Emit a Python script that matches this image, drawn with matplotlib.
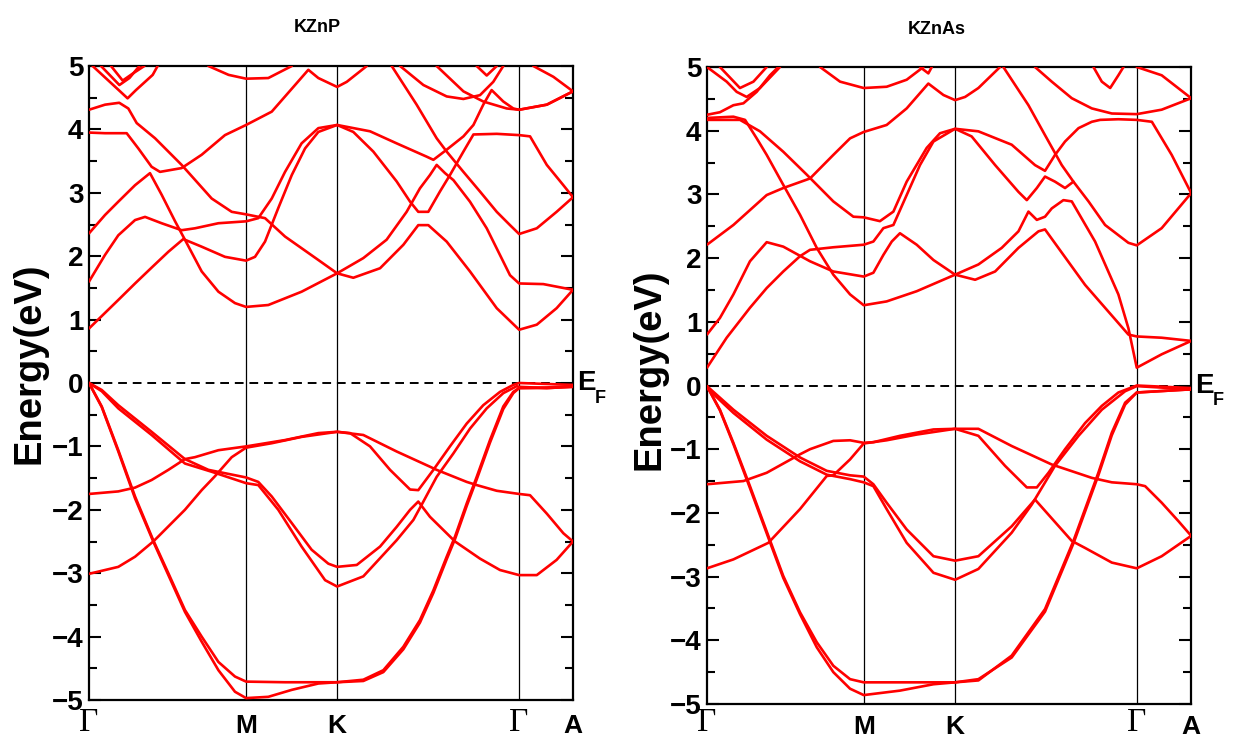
import matplotlib
matplotlib.use("Agg")
import matplotlib.pyplot as plt
from matplotlib.ticker import MultipleLocator
from matplotlib.transforms import blended_transform_factory

plt.rcParams["font.family"] = ["Liberation Sans", "DejaVu Sans"]
plt.rcParams["axes.unicode_minus"] = True

# high-symmetry path, distances along the path (same path for both compounds)
k_nodes = [0.0, 0.863, 1.363, 2.363, 2.659]
k_names = ["Γ", "M", "K", "Γ", "A"]

# ---------------- KZnP: (k, E/eV) for each band ----------------
kznp_v1 = ([0, 0.161, 0.253, 0.344, 0.436, 0.527, 0.582, 0.711, 0.863, 1.077, 1.26, 1.363, 1.507, 1.690, 1.873, 1.910, 2.075, 2.130, 2.240, 2.363, 2.423, 2.515, 2.606, 2.659],
           [-1.75, -1.71, -1.65, -1.53, -1.37, -1.20, -1.17, -1.06, -1.00, -0.90, -0.79, -0.77, -0.82, -1.08, -1.32, -1.37, -1.56, -1.61, -1.70, -1.75, -1.77, -2.06, -2.37, -2.50])
kznp_v2 = ([0, 0.161, 0.253, 0.353, 0.381, 0.527, 0.619, 0.692, 0.784, 0.863, 1.004, 1.168, 1.363, 1.434, 1.544, 1.654, 1.764, 1.809, 1.892, 1.983, 2.075, 2.166, 2.258, 2.331, 2.363, 2.659],
           [-3.01, -2.90, -2.74, -2.50, -2.42, -2.00, -1.69, -1.47, -1.17, -1.02, -0.95, -0.85, -0.77, -0.79, -1.00, -1.37, -1.68, -1.69, -1.37, -1.00, -0.64, -0.35, -0.14, -0.03, 0.00, -0.03])
kznp_v3 = ([0, 0.07, 0.161, 0.344, 0.527, 0.656, 0.863, 0.930, 1.004, 1.114, 1.223, 1.315, 1.363, 1.471, 1.599, 1.690, 1.764, 1.809, 1.873, 1.965, 2.011, 2.148, 2.258, 2.363, 2.460, 2.569, 2.659],
           [0.0, -0.11, -0.35, -0.77, -1.20, -1.37, -1.49, -1.56, -1.79, -2.21, -2.63, -2.85, -2.90, -2.87, -2.58, -2.27, -2.00, -1.87, -2.11, -2.37, -2.50, -2.77, -2.95, -3.03, -3.03, -2.79, -2.50])
kznp_v4 = ([0, 0.07, 0.161, 0.344, 0.527, 0.674, 0.863, 0.930, 1.040, 1.168, 1.297, 1.363, 1.507, 1.690, 1.782, 1.837, 1.910, 2.002, 2.093, 2.185, 2.276, 2.350, 2.363, 2.515, 2.659],
           [0.0, -0.13, -0.40, -0.82, -1.27, -1.40, -1.58, -1.61, -2.00, -2.58, -3.11, -3.21, -3.05, -2.48, -2.16, -1.87, -1.48, -1.11, -0.72, -0.40, -0.16, -0.05, -0.06, -0.08, -0.06])
kznp_v5 = ([0, 0.07, 0.161, 0.253, 0.353, 0.436, 0.527, 0.619, 0.711, 0.802, 0.863, 1.077, 1.26, 1.363, 1.507, 1.617, 1.727, 1.818, 1.892, 1.965, 2.011, 2.075, 2.130, 2.203, 2.276, 2.331, 2.363, 2.515, 2.659],
           [0.0, -0.37, -1.06, -1.79, -2.48, -3.00, -3.58, -4.00, -4.40, -4.63, -4.71, -4.72, -4.72, -4.72, -4.68, -4.53, -4.16, -3.74, -3.27, -2.74, -2.42, -1.90, -1.48, -0.90, -0.37, -0.14, -0.08, -0.08, -0.06])
kznp_v6 = ([0, 0.07, 0.161, 0.253, 0.353, 0.436, 0.527, 0.619, 0.711, 0.802, 0.863, 0.985, 1.114, 1.26, 1.363, 1.507, 1.617, 1.727, 1.818, 1.892, 1.965, 2.011, 2.075, 2.130, 2.203, 2.276, 2.331, 2.363, 2.515, 2.659],
           [0.0, -0.38, -1.08, -1.82, -2.50, -3.03, -3.61, -4.08, -4.53, -4.87, -4.97, -4.95, -4.84, -4.74, -4.72, -4.70, -4.56, -4.20, -3.78, -3.31, -2.78, -2.46, -1.94, -1.52, -0.94, -0.41, -0.16, -0.08, -0.07, -0.05])

kznp_c1 = ([0, 0.161, 0.253, 0.344, 0.436, 0.518, 0.619, 0.747, 0.863, 0.912, 0.967, 1.040, 1.114, 1.187, 1.26, 1.363, 1.544, 1.690, 1.855, 1.892, 1.965, 2.057, 2.112, 2.166, 2.212, 2.276, 2.331, 2.363, 2.515, 2.659],
           [0.86, 1.31, 1.57, 1.82, 2.07, 2.27, 2.15, 1.99, 1.93, 1.99, 2.23, 2.76, 3.28, 3.70, 3.96, 4.07, 3.97, 3.78, 3.57, 3.52, 3.68, 3.89, 4.07, 4.39, 4.62, 4.44, 4.33, 4.31, 4.39, 4.60])
kznp_c2 = ([0, 0.088, 0.161, 0.253, 0.308, 0.399, 0.509, 0.582, 0.711, 0.863, 0.930, 1.004, 1.077, 1.168, 1.26, 1.363, 1.452, 1.562, 1.690, 1.764, 1.809, 1.864, 1.928, 1.983, 2.057, 2.112, 2.240, 2.363, 2.423, 2.515, 2.606, 2.659],
           [1.60, 2.02, 2.33, 2.57, 2.62, 2.52, 2.41, 2.44, 2.52, 2.55, 2.60, 2.91, 3.33, 3.78, 4.02, 4.07, 3.96, 3.65, 3.18, 2.86, 2.70, 2.70, 3.02, 3.28, 3.65, 3.92, 3.93, 3.91, 3.89, 3.44, 3.12, 2.93])
kznp_c3 = ([0, 0.088, 0.161, 0.253, 0.335, 0.399, 0.473, 0.527, 0.619, 0.711, 0.802, 0.863, 0.985, 1.168, 1.363, 1.507, 1.635, 1.745, 1.818, 1.873, 1.910, 1.956, 2.002, 2.093, 2.185, 2.313, 2.363, 2.496, 2.659],
           [2.36, 2.65, 2.86, 3.12, 3.31, 2.97, 2.55, 2.26, 1.76, 1.44, 1.26, 1.20, 1.23, 1.44, 1.73, 1.97, 2.26, 2.70, 3.07, 3.28, 3.44, 3.31, 3.20, 2.86, 2.44, 1.70, 1.57, 1.56, 1.47])
kznp_c4 = ([0, 0.088, 0.207, 0.271, 0.344, 0.390, 0.509, 0.619, 0.747, 0.863, 1.004, 1.132, 1.205, 1.26, 1.363, 1.416, 1.526],
           [3.95, 3.94, 3.94, 3.70, 3.41, 3.33, 3.39, 3.60, 3.91, 4.07, 4.28, 4.70, 4.94, 4.81, 4.67, 4.75, 5.0])
kznp_c5 = ([0, 0.088, 0.166, 0.216, 0.262, 0.363, 0.509, 0.674, 0.784, 0.863, 0.967, 1.077, 1.26, 1.363, 1.452, 1.599, 1.727, 1.809, 1.864, 1.965, 2.093, 2.240, 2.363, 2.460, 2.569, 2.659],
           [4.31, 4.39, 4.42, 4.33, 4.10, 3.86, 3.44, 2.91, 2.70, 2.66, 2.60, 2.31, 1.94, 1.73, 1.66, 1.81, 2.18, 2.49, 2.49, 2.23, 1.76, 1.18, 0.84, 0.92, 1.18, 1.47])
kznp_c6 = ([1.663, 1.800, 1.910, 1.965, 2.057, 2.148, 2.240, 2.313, 2.363, 2.460, 2.569, 2.659],
           [5.0, 4.39, 3.86, 3.65, 3.33, 3.02, 2.70, 2.49, 2.35, 2.44, 2.70, 2.93])
kznp_c7 = ([0.656, 0.767, 0.863, 0.985, 1.114], [5.0, 4.86, 4.80, 4.81, 5.0])
kznp_c8 = ([1.709, 1.837, 1.965, 2.057, 2.148, 2.221, 2.276], [5.0, 4.70, 4.52, 4.48, 4.54, 4.75, 5.0])
kznp_c9 = ([1.910, 2.057, 2.166, 2.295, 2.363, 2.515, 2.659], [5.0, 4.60, 4.44, 4.33, 4.31, 4.39, 4.60])
kznp_c10 = ([2.441, 2.551, 2.659], [5.0, 4.83, 4.60])
kznp_c11 = ([2.130, 2.185, 2.240], [5.0, 4.85, 5.0])
kznp_c12 = ([0.020, 0.167, 0.212, 0.258, 0.350, 0.377], [5.0, 4.61, 4.49, 4.62, 4.86, 5.0])
kznp_c13 = ([0.066, 0.167, 0.222, 0.277], [5.0, 4.70, 4.81, 5.0])
kznp_c14 = ([0.121, 0.185, 0.240, 0.304], [5.0, 4.77, 4.88, 5.0])

# ---------------- KZnAs ----------------
kznas_v1 = ([0, 0.2, 0.328, 0.511, 0.566, 0.694, 0.786, 0.861, 0.914, 1.06, 1.244, 1.363, 1.491, 1.674, 1.894, 2.114, 2.224, 2.361, 2.407, 2.498, 2.590, 2.660],
            [-1.55, -1.50, -1.37, -1.08, -1.00, -0.87, -0.86, -0.90, -0.89, -0.79, -0.69, -0.68, -0.68, -0.95, -1.24, -1.45, -1.52, -1.55, -1.58, -1.84, -2.13, -2.36])
kznas_v2 = ([0, 0.145, 0.337, 0.511, 0.658, 0.694, 0.786, 0.861, 0.987, 1.152, 1.363, 1.491, 1.637, 1.757, 1.812, 1.876, 1.967, 2.077, 2.169, 2.260, 2.361, 2.660],
            [-2.87, -2.73, -2.47, -1.94, -1.42, -1.41, -1.16, -0.91, -0.86, -0.77, -0.68, -0.79, -1.26, -1.60, -1.60, -1.37, -1.00, -0.59, -0.32, -0.11, 0.00, -0.04])
kznas_v3 = ([0, 0.145, 0.328, 0.511, 0.658, 0.786, 0.861, 0.914, 0.987, 1.097, 1.244, 1.363, 1.491, 1.674, 1.802, 2.004, 2.077, 2.224, 2.361, 2.498, 2.660],
            [-0.01, -0.38, -0.79, -1.13, -1.34, -1.41, -1.43, -1.55, -1.84, -2.26, -2.68, -2.75, -2.68, -2.21, -1.79, -2.44, -2.55, -2.78, -2.87, -2.68, -2.36])
kznas_v4 = ([0, 0.145, 0.328, 0.511, 0.658, 0.786, 0.861, 0.914, 0.987, 1.097, 1.244, 1.363, 1.491, 1.674, 1.784, 1.912, 2.041, 2.169, 2.297, 2.361, 2.660],
            [-0.04, -0.43, -0.85, -1.19, -1.40, -1.47, -1.52, -1.58, -1.94, -2.47, -2.94, -3.05, -2.88, -2.31, -1.87, -1.26, -0.79, -0.38, -0.09, -0.01, -0.06])
kznas_v5 = ([0, 0.071, 0.145, 0.236, 0.337, 0.419, 0.511, 0.603, 0.694, 0.786, 0.861, 1.06, 1.244, 1.363, 1.491, 1.674, 1.857, 1.949, 2.013, 2.077, 2.150, 2.224, 2.297, 2.361, 2.660],
            [-0.01, -0.38, -0.90, -1.58, -2.36, -2.99, -3.56, -4.03, -4.40, -4.61, -4.66, -4.66, -4.66, -4.66, -4.63, -4.24, -3.51, -2.88, -2.44, -1.94, -1.37, -0.74, -0.27, -0.11, -0.06])
kznas_v6 = ([0, 0.071, 0.145, 0.236, 0.337, 0.419, 0.511, 0.603, 0.694, 0.786, 0.861, 1.06, 1.244, 1.363, 1.491, 1.674, 1.857, 1.949, 2.013, 2.077, 2.150, 2.224, 2.297, 2.361, 2.660],
            [-0.01, -0.39, -0.92, -1.61, -2.39, -3.02, -3.59, -4.11, -4.50, -4.76, -4.86, -4.79, -4.69, -4.66, -4.61, -4.27, -3.55, -2.92, -2.48, -1.98, -1.41, -0.78, -0.30, -0.11, -0.06])

kznas_c1 = ([0, 0.108, 0.236, 0.328, 0.419, 0.511, 0.566, 0.694, 0.861, 0.914, 0.969, 1.024, 1.097, 1.17, 1.244, 1.363, 1.491, 1.674, 1.802, 1.857, 1.912, 1.967, 2.041, 2.114, 2.160, 2.260, 2.361, 2.444, 2.553, 2.660],
            [0.28, 0.75, 1.22, 1.53, 1.79, 2.03, 2.13, 2.17, 2.21, 2.26, 2.47, 2.52, 2.99, 3.46, 3.83, 4.03, 3.99, 3.78, 3.46, 3.37, 3.62, 3.83, 4.04, 4.14, 4.17, 4.18, 4.17, 4.14, 3.62, 3.02])
kznas_c2 = ([0, 0.071, 0.145, 0.236, 0.328, 0.419, 0.566, 0.694, 0.861, 0.914, 0.969, 1.015, 1.06, 1.152, 1.244, 1.363, 1.473, 1.583, 1.711, 1.821, 1.857, 2.077, 2.315, 2.361, 2.498, 2.660],
            [0.80, 1.06, 1.43, 1.95, 2.25, 2.18, 1.95, 1.79, 1.71, 1.77, 2.05, 2.26, 2.39, 2.21, 1.97, 1.74, 1.66, 1.79, 2.16, 2.42, 2.45, 1.58, 0.80, 0.77, 0.75, 0.70])
kznas_c3 = ([0, 0.145, 0.328, 0.419, 0.566, 0.694, 0.786, 0.861, 0.987, 1.097, 1.216, 1.299, 1.363, 1.418, 1.491, 1.610],
            [2.21, 2.52, 2.99, 3.10, 3.25, 3.62, 3.88, 3.98, 4.09, 4.35, 4.74, 4.56, 4.48, 4.53, 4.67, 5.0])
kznas_c4 = ([0, 0.145, 0.209, 0.273, 0.328, 0.419, 0.511, 0.603, 0.694, 0.786, 0.861, 0.987, 1.152, 1.363, 1.491, 1.619, 1.711, 1.766, 1.812, 1.857, 1.894, 1.958, 2.004, 2.132, 2.260, 2.315, 2.361, 2.498, 2.660],
            [4.20, 4.22, 4.17, 3.88, 3.62, 3.15, 2.68, 2.16, 1.74, 1.43, 1.26, 1.32, 1.48, 1.74, 1.90, 2.16, 2.42, 2.73, 2.60, 2.65, 2.78, 2.91, 2.89, 2.26, 1.43, 0.90, 0.28, 0.49, 0.70])
kznas_c5 = ([0, 0.181, 0.291, 0.419, 0.548, 0.694, 0.804, 0.861, 0.950, 1.024, 1.097, 1.207, 1.28, 1.363, 1.454, 1.583, 1.711, 1.757, 1.812, 1.857, 1.912, 1.967, 2.013, 2.096, 2.187, 2.315, 2.361, 2.498, 2.660],
            [4.17, 4.17, 3.99, 3.67, 3.31, 2.89, 2.65, 2.64, 2.58, 2.73, 3.20, 3.73, 3.96, 4.03, 3.91, 3.46, 3.04, 2.91, 3.10, 3.28, 3.20, 3.10, 3.20, 2.89, 2.52, 2.24, 2.20, 2.47, 3.02])
kznas_c6 = ([1.628, 1.766, 1.857, 1.949, 2.013], [5.0, 4.40, 3.93, 3.46, 3.20])
kznas_c7 = ([1.802, 1.894, 2.004, 2.114, 2.224, 2.361, 2.498, 2.660], [5.0, 4.77, 4.51, 4.35, 4.27, 4.26, 4.33, 4.51])
kznas_c8 = ([2.361, 2.498, 2.660], [5.0, 4.87, 4.51])
kznas_c9 = ([2.123, 2.169, 2.215, 2.260, 2.288], [5.0, 4.77, 4.67, 4.87, 5.0])
kznas_c10 = ([0, 0.071, 0.145, 0.2, 0.273, 0.346, 0.392], [4.25, 4.29, 4.40, 4.43, 4.61, 4.87, 5.0])
kznas_c11 = ([0, 0.108, 0.163, 0.218, 0.291, 0.401], [5.0, 4.77, 4.61, 4.53, 4.67, 5.0])
kznas_c12 = ([0.071, 0.181, 0.255, 0.328], [5.0, 4.67, 4.77, 5.0])
kznas_c13 = ([0.621, 0.731, 0.861, 0.987, 1.097, 1.189], [5.0, 4.77, 4.67, 4.69, 4.80, 5.0])
kznas_c14 = ([1.17, 1.216, 1.235], [5.0, 4.90, 5.0])

kznp_bands = [kznp_v1, kznp_v2, kznp_v3, kznp_v4, kznp_v5, kznp_v6,
              kznp_c1, kznp_c2, kznp_c3, kznp_c4, kznp_c5, kznp_c6, kznp_c7,
              kznp_c8, kznp_c9, kznp_c10, kznp_c11, kznp_c12, kznp_c13, kznp_c14]
kznas_bands = [kznas_v1, kznas_v2, kznas_v3, kznas_v4, kznas_v5, kznas_v6,
               kznas_c1, kznas_c2, kznas_c3, kznas_c4, kznas_c5, kznas_c6, kznas_c7,
               kznas_c8, kznas_c9, kznas_c10, kznas_c11, kznas_c12, kznas_c13, kznas_c14]

W, H = 1239, 740
fig = plt.figure(figsize=(W / 100, H / 100), dpi=100)
fig.patch.set_facecolor("white")


def panel(rect, bands, title, title_xy, ylab_xy, gamma_drop, xpad):
    ax = fig.add_axes(rect)
    for k, e in bands:
        ax.plot(k, e, color="#ff0000", lw=1.9, solid_joinstyle="round",
                solid_capstyle="round", zorder=3)
    for x in k_nodes[1:-1]:
        ax.axvline(x, color="black", lw=0.9, zorder=1)
    ax.axhline(0, color="black", lw=1.4, ls=(0, (4.5, 3)), zorder=2)

    ax.set_xlim(k_nodes[0], k_nodes[-1])
    ax.set_ylim(-5, 5)

    # M, K, A as bold tick labels; Γ drawn separately in a serif face
    ax.set_xticks(k_nodes)
    ax.set_xticklabels(["" if n == "Γ" else n for n in k_names])
    ax.tick_params(axis="x", length=0, pad=xpad)
    for lbl in ax.get_xticklabels():
        lbl.set_fontweight("bold")
        lbl.set_fontsize(19)
    trx = blended_transform_factory(ax.transData, ax.transAxes)
    for x, n in zip(k_nodes, k_names):
        if n == "Γ":
            ax.text(x, -gamma_drop, n, transform=trx, ha="center", va="top",
                    fontsize=24, family=["Liberation Serif", "DejaVu Serif"],
                    clip_on=False)

    ax.yaxis.set_major_locator(MultipleLocator(1))
    ax.yaxis.set_minor_locator(MultipleLocator(0.5))
    ax.tick_params(axis="y", which="both", direction="in", left=True, right=True,
                   width=1.5, labelsize=20, pad=4)
    ax.tick_params(axis="y", which="major", length=8.5)
    ax.tick_params(axis="y", which="minor", length=5.5)
    for lbl in ax.get_yticklabels():
        lbl.set_fontweight("bold")
    for s in ax.spines.values():
        s.set_linewidth(1.6)

    # Fermi level tag on the right edge
    tr = blended_transform_factory(ax.transAxes, ax.transData)
    ax.text(1.009, 0.0, "E", transform=tr, fontsize=20, fontweight="bold",
            ha="left", va="center", clip_on=False)
    ax.text(1.045, -0.24, "F", transform=tr, fontsize=13, fontweight="bold",
            ha="left", va="center", clip_on=False)

    fig.text(title_xy[0] / W, 1 - title_xy[1] / H, title, fontsize=13,
             fontweight="bold", ha="center", va="center")
    fig.text(ylab_xy[0] / W, 1 - ylab_xy[1] / H, "Energy(eV)", rotation=90,
             fontsize=27.5, fontweight="bold", ha="center", va="center")
    return ax


panel([89 / W, 1 - 700 / H, 484 / W, 634 / H], kznp_bands, "KZnP", (317, 28),
      (30, 363), 0.012, 10)
panel([707 / W, 1 - 704 / H, 484 / W, 637 / H], kznas_bands, "KZnAs", (937, 30),
      (650, 369), 0.005, 8)

fig.savefig("out.png", dpi=100, facecolor="white")
